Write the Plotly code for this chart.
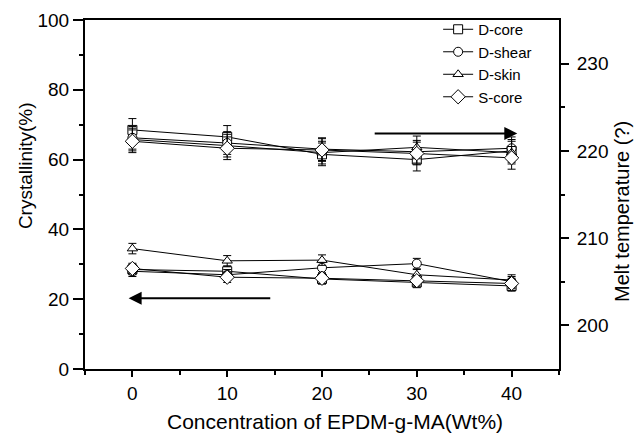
import plotly.graph_objects as go

# EPDM-g-MA loading (wt%)
conc = [0, 10, 20, 30, 40]

# Crystallinity (%) by sample position
cryst_d_core = [28.5, 28.0, 25.8, 24.8, 23.8]
cryst_d_shear = [28.0, 27.0, 29.0, 30.2, 25.0]
cryst_d_skin = [34.5, 31.0, 31.2, 27.0, 25.5]
cryst_s_core = [28.8, 26.3, 26.0, 25.3, 24.5]
cryst_err = [1.5, 1.5, 1.5, 1.5, 1.5]

# Melt temperature by sample position
melt_d_core = [222.4, 221.6, 219.6, 219.0, 220.0]
melt_d_shear = [221.5, 220.9, 220.2, 219.9, 220.3]
melt_d_skin = [221.3, 220.6, 219.8, 220.4, 219.8]
melt_s_core = [221.1, 220.3, 220.1, 219.7, 219.2]
melt_err = [1.3, 1.3, 1.3, 1.3, 1.3]

names = ["D-core", "D-shear", "D-skin", "S-core"]
symbols = ["square", "circle", "triangle-up", "diamond"]
cryst = [cryst_d_core, cryst_d_shear, cryst_d_skin, cryst_s_core]
melt = [melt_d_core, melt_d_shear, melt_d_skin, melt_s_core]

x_title = "Concentration of EPDM-g-MA(Wt%)"
y_title = "Crystallinity(%)"
y2_title = "Melt temperature (?)"

FONT = "Liberation Sans, Arial, Helvetica, sans-serif"


def marker(sym):
    # hollow look: white fill with a thin black outline
    return dict(symbol=sym, size=9 if sym != "diamond" else 11, color="white",
                line=dict(color="black", width=1))


fig = go.Figure()

for name, sym, yc, ym in zip(names, symbols, cryst, melt):
    fig.add_trace(go.Scatter(
        x=conc, y=yc, name=name, mode="lines+markers",
        line=dict(color="black", width=1),
        marker=marker(sym),
        error_y=dict(type="data", array=cryst_err, color="black",
                     thickness=1, width=4),
        yaxis="y",
    ))
    fig.add_trace(go.Scatter(
        x=conc, y=ym, name=name, mode="lines+markers", showlegend=False,
        line=dict(color="black", width=1),
        marker=marker(sym),
        error_y=dict(type="data", array=melt_err, color="black",
                     thickness=1, width=4),
        yaxis="y2",
    ))

# Direction arrows pointing to each series' axis
fig.add_annotation(x=40.6, y=67.5, ax=25.4, ay=67.5, xref="x", yref="y",
                   axref="x", ayref="y", text="", showarrow=True,
                   arrowhead=2, arrowsize=1.3, arrowwidth=2, arrowcolor="black")
fig.add_annotation(x=-0.4, y=20.3, ax=14.7, ay=20.3, xref="x", yref="y",
                   axref="x", ayref="y", text="", showarrow=True,
                   arrowhead=2, arrowsize=1.3, arrowwidth=2, arrowcolor="black")

# Axis titles placed as paper-anchored text
fig.add_annotation(x=0.527, y=-0.149, xref="paper", yref="paper",
                   text=x_title, showarrow=False, font=dict(size=21),
                   xanchor="center", yanchor="middle")
fig.add_annotation(x=-0.124, y=0.582, xref="paper", yref="paper",
                   text=y_title, showarrow=False, font=dict(size=19),
                   textangle=-90, xanchor="center", yanchor="middle")
fig.add_annotation(x=1.133, y=0.45, xref="paper", yref="paper",
                   text=y2_title, showarrow=False, font=dict(size=20),
                   textangle=-90, xanchor="center", yanchor="middle")

fig.update_layout(
    width=634, height=433,
    margin=dict(l=85, r=75, t=20, b=64),
    paper_bgcolor="white", plot_bgcolor="white",
    font=dict(family=FONT, color="black", size=19),
    xaxis=dict(
        range=[-5, 45], tickvals=[0, 10, 20, 30, 40], automargin=False,
        ticks="outside", ticklen=6, tickwidth=1.5, tickcolor="black",
        minor=dict(tickvals=[-5, 5, 15, 25, 35, 45], ticks="outside",
                   ticklen=4, tickwidth=1.5, tickcolor="black"),
        showline=True, linecolor="black", linewidth=2, mirror=True,
        showgrid=False, zeroline=False,
        tickfont=dict(size=19),
    ),
    yaxis=dict(
        range=[0, 100], tickvals=[0, 20, 40, 60, 80, 100], automargin=False,
        ticks="outside", ticklen=10, tickwidth=1.5, tickcolor="black",
        minor=dict(tickvals=[10, 30, 50, 70, 90], ticks="outside",
                   ticklen=4, tickwidth=1.5, tickcolor="black"),
        showline=True, linecolor="black", linewidth=2,
        showgrid=False, zeroline=False,
        tickfont=dict(size=19),
    ),
    yaxis2=dict(
        range=[195, 235], tickvals=[200, 210, 220, 230], automargin=False,
        overlaying="y", side="right",
        ticks="outside", ticklen=8, tickwidth=1.5, tickcolor="black",
        minor=dict(tickvals=[205, 215, 225], ticks="outside",
                   ticklen=4, tickwidth=1.5, tickcolor="black"),
        showline=True, linecolor="black", linewidth=2,
        showgrid=False, zeroline=False,
        tickfont=dict(size=19), ticklabelstandoff=4,
    ),
    legend=dict(
        x=0.745, y=1.02, xanchor="left", yanchor="top",
        bgcolor="rgba(0,0,0,0)", borderwidth=0,
        font=dict(size=15), tracegroupgap=0, itemwidth=30,
    ),
    showlegend=True,
)

fig.write_html("out.html")
